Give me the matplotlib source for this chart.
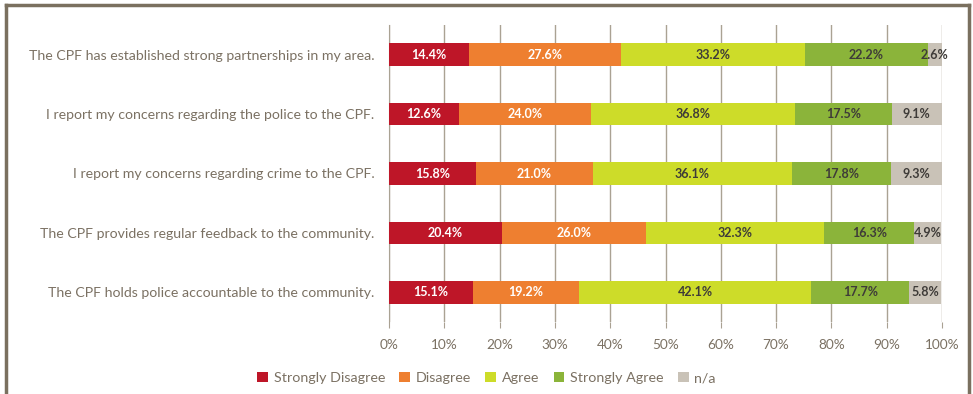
import numpy as np
import matplotlib.pyplot as plt
from matplotlib.lines import Line2D
from matplotlib.patches import Patch

statements = [
    "The CPF has established strong partnerships in my area.",
    "I report my concerns regarding the police to the CPF.",
    "I report my concerns regarding crime to the CPF.",
    "The CPF provides regular feedback to the community.",
    "The CPF holds police accountable to the community.",
]
categories = ["Strongly Disagree", "Disagree", "Agree", "Strongly Agree", "n/a"]
strongly_disagree = [14.4, 12.6, 15.8, 20.4, 15.1]
disagree = [27.6, 24.0, 21.0, 26.0, 19.2]
agree = [33.2, 36.8, 36.1, 32.3, 42.1]
strongly_agree = [22.2, 17.5, 17.8, 16.3, 17.7]
na = [2.6, 9.1, 9.3, 4.9, 5.8]

colors = ["#be1628", "#ee7f30", "#cddc29", "#8bb43a", "#c9c2b7"]
label_colors = ["white", "white", "#3e3b38", "#3e3b38", "#3e3b38"]
text_grey = "#7b7163"
frame_col = "#7a705f"

plt.rcParams['font.family'] = ['Lato', 'DejaVu Sans']

fig = plt.figure(figsize=(9.73, 3.94), dpi=100)
ax = fig.add_axes([389/973, 1-322/394, (942-389)/973, (322-25)/394])

series = [strongly_disagree, disagree, agree, strongly_agree, na]
y = np.arange(len(statements))
left = np.zeros(len(statements))
for vals, name, c, tc in zip(series, categories, colors, label_colors):
    vals = np.array(vals)
    ax.barh(y, vals, left=left, height=0.38, color=c, label=name, zorder=3)
    for yi, v, l in zip(y, vals, left):
        ax.text(l + v/2, yi, f"{v:.1f}%", ha='center', va='center',
                color=tc, fontsize=9, fontweight='bold', zorder=4)
    left += vals

ax.set_xlim(0, 100)
ax.set_ylim(len(statements) - 0.5, -0.5)
ax.set_yticks(y)
ax.set_yticklabels(statements, color=text_grey, fontsize=10.2)
ax.set_xticks(np.arange(0, 101, 10))
ax.set_xticklabels([f"{t}%" for t in range(0, 101, 10)], color=text_grey, fontsize=9.8)
ax.tick_params(axis='y', length=0, pad=10.5)
ax.tick_params(axis='x', length=4, color="#a9a192", pad=8)
ax.grid(axis='x', color="#aaa293", linewidth=1, zorder=0)
for s in ['top', 'right', 'bottom']:
    ax.spines[s].set_visible(False)
ax.spines['left'].set_color("#aaa293")

handles = [Patch(facecolor=c, label=n) for c, n in zip(colors, categories)]
fig.legend(handles=handles, loc='center', bbox_to_anchor=(0.5, 1-378/394),
           ncol=5, frameon=False, fontsize=10.3, labelcolor=text_grey,
           handlelength=0.75, handleheight=0.75, handletextpad=0.4, columnspacing=1.0)

# frame around the chart
fig.add_artist(Line2D([6/973, 6/973], [0, 1-5/394], color=frame_col, lw=2.5, transform=fig.transFigure))
fig.add_artist(Line2D([969/973, 969/973], [0, 1-5/394], color=frame_col, lw=2.5, transform=fig.transFigure))
fig.add_artist(Line2D([6/973, 969/973], [1-5/394, 1-5/394], color=frame_col, lw=2.5, transform=fig.transFigure))

fig.savefig("out.png", dpi=100)
